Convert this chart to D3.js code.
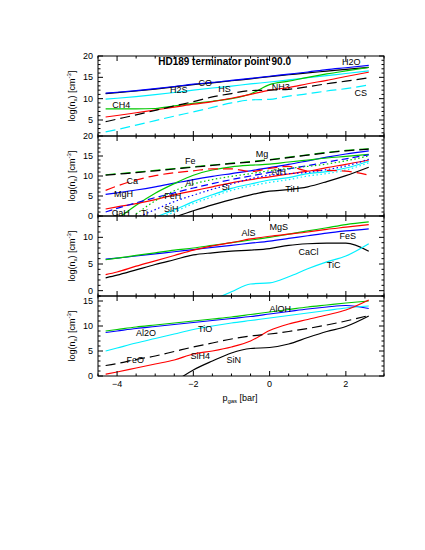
<!DOCTYPE html>
<html>
<head>
<meta charset="utf-8">
<script src="https://cdn.jsdelivr.net/npm/d3@7"></script>
<style>
body { margin: 0; background: #fff; }
text { font-family: "Liberation Sans", Arial, sans-serif; fill: #000; }
</style>
</head>
<body>
<div id="chart"></div>
<script>
// shared pressure grid, log10(p_gas / bar)
const pgas = [-4.3, -4, -3.5, -3, -2.5, -2, -1.5, -1, -0.5, 0, 0.5, 1, 1.5, 2, 2.6];
const xTicks = [-4, -2, 0, 2];

// panel 1: molecules
const CO  = [11.2, 11.4, 11.8, 12.25, 12.75, 13.3, 13.7, 14.2, 14.65, 15.15, 15.6, 16.05, 16.45, 16.85, 17.35];
const H2O = [11.3, 11.5, 11.9, 12.35, 12.85, 13.4, 13.8, 14.3, 14.75, 15.25, 15.75, 16.25, 16.8, 17.25, 17.8];
const H2S = [9.9, 10.1, 10.5, 10.95, 11.45, 12.0, 12.5, 12.95, 13.45, 13.9, 14.4, 14.9, 15.4, 15.9, 16.5];
const CH4 = [7.6, 7.6, 7.6, 7.7, 8.3, 8.9, 9.4, 10.0, 11.1, 13.3, 14.1, 15.0, 15.8, 16.5, 17.3];
const NH3 = [5.7, 6.05, 6.7, 7.35, 8.0, 8.7, 9.3, 10.1, 11.0, 12.0, 12.6, 13.5, 14.3, 15.2, 16.2];
const HS  = [4.6, 5.2, 6.2, 7.25, 8.3, 9.3, 10.4, 11.2, 11.9, 12.0, 12.2, 12.8, 13.5, 14.1, 14.9];
const CS  = [2.2, 2.75, 3.8, 4.85, 5.9, 6.9, 7.95, 9.0, 9.7, 9.85, 10.6, 11.15, 11.8, 12.35, 13.2];

// panel 2: atoms and hydrides
const Mg  = [10.3, 10.55, 10.95, 11.4, 11.85, 12.3, 12.75, 13.2, 13.6, 14.1, 14.7, 15.3, 15.9, 16.4, 16.8];
const Fe  = [10.2, 10.45, 10.85, 11.3, 11.75, 12.2, 12.65, 13.1, 13.5, 14.0, 14.6, 15.2, 15.8, 16.3, 16.7];
const Ca  = [6.4, 7.5, 9.0, 10.1, 10.8, 11.3, 11.8, 11.8, 11.1, 11.9, 12.4, 11.3, 11.4, 11.2, 10.2];
const MgH = [5.4, 5.8, 6.5, 7.3, 8.2, 9.1, 9.9, 10.6, 11.3, 12.1, 12.9, 13.8, 14.7, 15.5, 16.3];
const AlH = [1.0, 1.9, 3.3, 4.6, 5.8, 7.0, 8.1, 9.1, 10.0, 10.9, 11.8, 12.6, 13.5, 14.3, 15.3];
const Al  = [null, -0.8, 2.7, 5.7, 8.1, 10.2, 11.5, 12.3, 12.7, 12.95, 13.5, 14.0, 14.5, 14.9, 15.4];
const Si  = [null, null, 0.5, 3.8, 6.3, 8.0, 9.1, 9.9, 10.6, 11.3, 11.9, 12.4, 13.0, 13.8, 15.0];
const FeH = [1.75, 2.3, 3.1, 4.1, 5.3, 6.3, 7.3, 8.3, 9.1, 9.8, 10.5, 11.2, 12.1, 12.9, 14.0];
const Ti  = [null, null, -0.5, 1.6, 3.6, 5.2, 6.7, 8.0, 9.3, 10.2, 10.6, 10.9, 11.6, 12.5, 14.2];
const SiH = [null, null, null, -0.3, 1.5, 3.6, 5.3, 6.9, 8.0, 9.0, 9.6, 10.6, 11.1, 12.0, 13.7];
const CaH = [null, null, null, -0.8, 1.0, 3.1, 4.8, 6.4, 7.5, 8.4, 9.1, 10.0, 10.6, 11.5, 13.3];
const TiH = [null, null, null, null, -0.3, 1.3, 2.8, 4.1, 5.3, 6.2, 6.6, 7.3, 8.6, 10.1, 12.2];

// panel 3: sulphides, chlorides, carbides
const MgS  = [5.8, 6.1, 6.6, 7.1, 7.6, 8.0, 8.5, 9.0, 9.5, 10.0, 10.6, 11.2, 11.8, 12.4, 12.9];
const FeS  = [5.9, 6.1, 6.5, 6.9, 7.3, 7.7, 8.1, 8.5, 8.9, 9.3, 9.8, 10.3, 10.8, 11.2, 11.6];
const AlS  = [3.0, 3.5, 4.6, 5.6, 6.6, 7.6, 8.4, 9.0, 9.7, 10.2, 10.6, 11.0, 11.5, 11.9, 12.4];
const CaCl = [2.4, 2.9, 3.9, 4.9, 5.8, 6.7, 7.1, 7.4, 7.6, 7.9, 8.5, 8.8, 8.9, 8.9, 7.4];
const TiC  = [null, null, null, null, null, null, -1.8, -0.2, 1.25, 1.45, 2.6, 4.1, 5.4, 6.5, 8.8];

// panel 4: oxides and others
const AlOH = [9.0, 9.3, 9.8, 10.2, 10.6, 11.0, 11.4, 11.8, 12.3, 12.8, 13.3, 13.8, 14.2, 14.6, 15.0];
const Al2O = [8.7, 9.0, 9.5, 9.9, 10.3, 10.7, 11.1, 11.5, 11.9, 12.4, 12.9, 13.4, 13.8, 14.1, 13.5];
const TiO  = [5.0, 5.6, 6.6, 7.5, 8.4, 9.3, 10.0, 10.6, 11.1, 11.6, 12.1, 12.6, 13.1, 13.6, 14.0];
const SiH4 = [0.35, 0.8, 1.6, 2.4, 3.2, 4.4, 5.0, 5.8, 7.0, 9.1, 10.4, 11.3, 12.2, 13.2, 15.2];
const FeO  = [2.1, 2.5, 3.3, 4.0, 4.9, 5.8, 6.6, 7.4, 8.0, 8.4, 8.9, 9.5, 10.2, 11.0, 12.1];
const SiN  = [null, null, null, null, -1.2, 1.2, 3.0, 4.6, 5.5, 5.7, 6.4, 7.7, 8.9, 9.9, 12.0];

// labels: [text, log p, log n]
const labels1 = [["H2O", 2.14, 18.7], ["CO", -1.69, 13.6], ["H2S", -2.38, 12.0], ["HS", -1.18, 12.2],
                 ["NH3", 0.29, 12.8], ["CH4", -3.89, 8.5], ["CS", 2.39, 11.3]];
const labels2 = [["Fe", -2.08, 13.8], ["Mg", -0.2, 15.5], ["Ca", -3.6, 8.8], ["MgH", -3.83, 5.5],
                 ["Al", -2.1, 8.2], ["AlH", 0.24, 11.1], ["FeH", -2.54, 5.0], ["Si", -1.15, 7.3],
                 ["TiH", 0.59, 6.9], ["SiH", -2.58, 1.75], ["CaH", -3.9, 0.7], ["Ti", -3.28, 0.7]];
const labels3 = [["AlS", -0.55, 10.9], ["MgS", 0.24, 11.95], ["FeS", 2.05, 10.2], ["CaCl", 1.02, 7.2],
                 ["TiC", 1.68, 4.9]];
const labels4 = [["AlOH", 0.28, 13.5], ["Al2O", -3.24, 8.7], ["TiO", -1.69, 9.5], ["FeO", -3.52, 3.2],
                 ["SiH4", -1.82, 4.0], ["SiN", -0.94, 3.2]];

const BLACK = "#000", BLUE = "#0000ff", CYAN = "#00f0ff", GREEN = "#00c800", RED = "#ff0000";
const LONG = "10,5", SHORT = "7,4", DOT = "1.5,2.5";

const panels = [
  { y0: 56, y1: 136, domain: [1.25, 20], ticks: [5, 10, 15, 20], labels: labels1,
    series: [[CO, BLACK], [H2O, BLUE], [H2S, CYAN], [CH4, GREEN], [NH3, RED], [HS, BLACK, LONG], [CS, CYAN, LONG]] },
  { y0: 136, y1: 216, domain: [0, 20], ticks: [0, 5, 10, 15, 20], labels: labels2,
    series: [[TiH, BLACK], [MgH, BLUE], [SiH, CYAN], [CaH, CYAN, DOT], [Al, GREEN], [FeH, RED],
             [Mg, GREEN, LONG], [Fe, BLACK, LONG], [AlH, BLUE, SHORT], [Ca, RED, LONG],
             [Ti, BLUE, DOT], [Si, GREEN, DOT]] },
  { y0: 216, y1: 296, domain: [-1, 14], ticks: [0, 5, 10], labels: labels3,
    series: [[CaCl, BLACK], [FeS, BLUE], [TiC, CYAN], [MgS, GREEN], [AlS, RED]] },
  { y0: 296, y1: 376, domain: [0, 16], ticks: [0, 5, 10, 15], labels: labels4,
    series: [[SiN, BLACK], [Al2O, BLUE], [TiO, CYAN], [AlOH, GREEN], [SiH4, RED], [FeO, BLACK, LONG]] }
];

const W = 425, H = 550, left = 98, right = 384;
const x = d3.scaleLinear().domain([-4.5, 3.0]).range([left, right]);
const xMinor = d3.range(-4.5, 3.01, 0.5);

const svg = d3.select("#chart").append("svg").attr("width", W).attr("height", H);

panels.forEach((p, i) => {
  const y = d3.scaleLinear().domain(p.domain).range([p.y1, p.y0]);
  const g = svg.append("g");

  g.append("clipPath").attr("id", "clip" + i)
    .append("rect").attr("x", left).attr("y", p.y0).attr("width", right - left).attr("height", p.y1 - p.y0);

  const line = d3.line()
    .defined(d => d[1] != null)
    .x(d => x(d[0]))
    .y(d => y(d[1]))
    .curve(d3.curveMonotoneX);

  const lines = g.append("g").attr("clip-path", `url(#clip${i})`);
  p.series.forEach(s => {
    lines.append("path")
      .datum(pgas.map((v, k) => [v, s[0][k]]))
      .attr("d", line)
      .attr("fill", "none")
      .attr("stroke", s[1])
      .attr("stroke-width", 1.2)
      .attr("stroke-dasharray", s[2] || null);
  });

  // frame
  g.append("rect").attr("x", left).attr("y", p.y0).attr("width", right - left).attr("height", p.y1 - p.y0)
    .attr("fill", "none").attr("stroke", "#000").attr("stroke-width", 1);

  // x ticks on top and bottom
  xMinor.forEach(v => {
    const len = xTicks.includes(v) ? 5 : 2.5;
    g.append("line").attr("x1", x(v)).attr("x2", x(v)).attr("y1", p.y1).attr("y2", p.y1 - len).attr("stroke", "#000");
    g.append("line").attr("x1", x(v)).attr("x2", x(v)).attr("y1", p.y0).attr("y2", p.y0 + len).attr("stroke", "#000");
  });

  // y ticks on left and right
  d3.range(Math.ceil(p.domain[0]), Math.floor(p.domain[1]) + 1).forEach(v => {
    const len = v % 5 === 0 ? 5 : 2.5;
    g.append("line").attr("x1", left).attr("x2", left + len).attr("y1", y(v)).attr("y2", y(v)).attr("stroke", "#000");
    g.append("line").attr("x1", right).attr("x2", right - len).attr("y1", y(v)).attr("y2", y(v)).attr("stroke", "#000");
  });

  g.selectAll(".ylab").data(p.ticks).enter().append("text")
    .attr("x", left - 5).attr("y", d => y(d)).attr("dy", "0.35em")
    .attr("text-anchor", "end").attr("font-size", 9).text(d => d);

  // axis title
  const yt = g.append("text")
    .attr("transform", `translate(75,${(p.y0 + p.y1) / 2}) rotate(-90)`)
    .attr("text-anchor", "middle").attr("font-size", 9);
  yt.append("tspan").text("log(n");
  yt.append("tspan").attr("font-size", 6).attr("dy", 2).text("x");
  yt.append("tspan").attr("dy", -2).text(") [cm");
  yt.append("tspan").attr("font-size", 6).attr("dy", -4).text("-3");
  yt.append("tspan").attr("dy", 4).text("]");

  g.selectAll(".lab").data(p.labels).enter().append("text")
    .attr("x", d => x(d[1])).attr("y", d => y(d[2])).attr("dy", "0.35em")
    .attr("text-anchor", "middle").attr("font-size", 9).text(d => d[0]);

  if (i === 3) {
    g.selectAll(".xlab").data(xTicks).enter().append("text")
      .attr("x", d => x(d)).attr("y", p.y1 + 11).attr("text-anchor", "middle")
      .attr("font-size", 9).text(d => d3.format("")(d));
    const xt = g.append("text").attr("x", 240).attr("y", p.y1 + 25)
      .attr("text-anchor", "middle").attr("font-size", 9);
    xt.append("tspan").text("p");
    xt.append("tspan").attr("font-size", 6).attr("dy", 2).text("gas");
    xt.append("tspan").attr("dy", -2).text(" [bar]");
  }
});

svg.append("text").attr("x", x(-1.18)).attr("y", 65)
  .attr("text-anchor", "middle").attr("font-size", 10).attr("font-weight", "bold")
  .text("HD189 terminator point 90.0");
</script>
</body>
</html>
